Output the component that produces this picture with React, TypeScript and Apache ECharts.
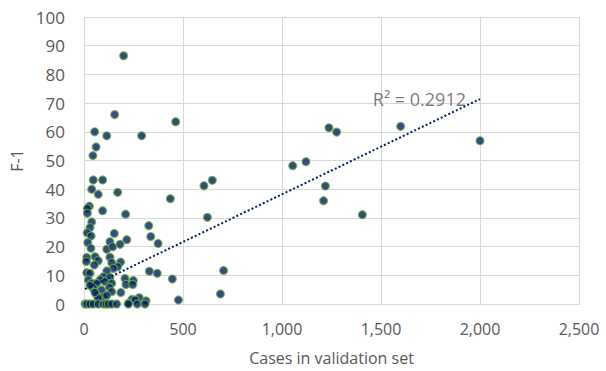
import React, { useEffect, useRef } from "react";
import * as echarts from "echarts";

const xTicks = [0, 500, 1000, 1500, 2000, 2500];
const yTicks = [0, 10, 20, 30, 40, 50, 60, 70, 80, 90, 100];

const casesX = [
  200, 155, 463, 54, 115, 291, 61, 45,
  47, 94, 39, 72, 170, 436, 606, 648, 623,
  27, 17, 17, 94, 210, 39, 30, 16, 36,
  153, 327, 337, 374, 131, 216, 182, 19, 35, 115, 145,
  14, 56, 72, 131, 140, 185, 52, 170, 148, 115, 14, 30, 330, 370, 705, 446, 689, 477,
  98, 131, 81, 22, 39, 64, 106, 140, 207, 249, 212, 246, 47, 89, 128, 140, 186, 64, 98, 115, 72,
  242, 279, 313, 258, 224, 12, 30, 55,
  5, 14, 30, 47, 72, 98, 111, 123, 140, 165, 224, 269, 308,
  1054, 1121, 1219, 1210, 1406, 1237, 1276, 1599, 2000
];
const f1Y = [
  86.5, 66, 63.5, 60, 58.6, 58.6, 54.7, 51.7,
  43.2, 43.2, 40, 38.2, 38.9, 36.7, 41.2, 43.1, 30.2,
  34.1, 33.3, 31.6, 32.5, 31.3, 28.6, 26.6, 24.8, 23.7,
  24.6, 27.3, 23.5, 21.1, 21.7, 22.4, 20.8, 21.4, 19.4, 19.1, 19.9,
  16.2, 16.5, 15.1, 16.3, 14.4, 14.6, 13.6, 13, 12.4, 11.5, 10.9, 10.7, 11.4, 10.7, 11.7, 8.7, 3.5, 1.4,
  9.5, 9.3, 8.4, 8.4, 7.2, 7.2, 7.8, 7.2, 8.9, 8.2, 6.8, 6.8, 5.5, 4.9, 5.8, 4.3, 4, 3.1, 2.5, 3, 2,
  1.6, 2.2, 1.1, 1.4, 0.3, 14.8, 6.5, 4,
  0, 0, 0, 0, 0, 0, 0, 0, 0, 0, 0, 0, 0,
  48.2, 49.6, 41.1, 36, 31.1, 61.4, 59.9, 61.9, 56.9
];

const trendX = [5, 2000];
const trendY = [5.2, 71.4];
const trendLabel = "R² = 0.2912";

export default function App() {
  const ref = useRef<HTMLDivElement>(null);
  useEffect(() => {
    if (!ref.current) return;
    const chart = echarts.init(ref.current, undefined, { renderer: "svg" });
    const font = "'Open Sans', 'Liberation Sans', sans-serif";
    const grey = "#595959";
    const gridColor = "#d9d9d9";
    chart.setOption({
      animation: false,
      grid: { left: 84, right: 27, top: 17, bottom: 67 },
      xAxis: {
        type: "value",
        min: xTicks[0],
        max: xTicks[xTicks.length - 1],
        interval: xTicks[1] - xTicks[0],
        name: "Cases in validation set",
        nameLocation: "middle",
        nameGap: 46,
        nameTextStyle: { color: grey, fontSize: 16, fontFamily: font },
        axisLine: { show: true, lineStyle: { color: gridColor, width: 1 } },
        axisTick: { show: false },
        axisLabel: {
          color: grey,
          fontSize: 16,
          fontFamily: font,
          margin: 17,
          formatter: (v: number) => v.toLocaleString("en-US"),
        },
        splitLine: { show: true, lineStyle: { color: gridColor, width: 1 } },
      },
      yAxis: {
        type: "value",
        min: yTicks[0],
        max: yTicks[yTicks.length - 1],
        interval: yTicks[1] - yTicks[0],
        name: "F-1",
        nameLocation: "middle",
        nameGap: 59,
        nameTextStyle: { color: grey, fontSize: 16, fontFamily: font },
        axisLine: { show: true, lineStyle: { color: gridColor, width: 1 } },
        axisTick: { show: false },
        axisLabel: { color: grey, fontSize: 17, fontFamily: font, margin: 19 },
        splitLine: { show: true, lineStyle: { color: gridColor, width: 1 } },
      },
      series: [
        {
          type: "scatter",
          clip: false,
          symbol: "circle",
          symbolSize: 8,
          itemStyle: { color: "#002060", borderColor: "#70AD47", borderWidth: 1.2 },
          data: casesX.map((x, i) => [x, f1Y[i]]),
          z: 2,
        },
        {
          type: "line",
          symbol: "none",
          z: 3,
          lineStyle: { color: "#002060", width: 2, type: [2, 2.2] },
          data: trendX.map((x, i) => [x, trendY[i]]),
        },
        {
          type: "scatter",
          symbolSize: 2,
          z: 4,
          itemStyle: { color: "rgba(0,0,0,0)" },
          labelLayout: { hideOverlap: false },
          label: {
            show: true,
            position: "left",
            distance: 13,
            formatter: trendLabel,
            color: grey,
            fontSize: 18,
            fontFamily: font,
          },
          data: [[trendX[trendX.length - 1], trendY[trendY.length - 1]]],
        },
      ],
    });
    return () => chart.dispose();
  }, []);
  return (
    <div
      ref={ref}
      style={{ position: "absolute", left: 0, top: 0, width: 606, height: 371 }}
    />
  );
}
